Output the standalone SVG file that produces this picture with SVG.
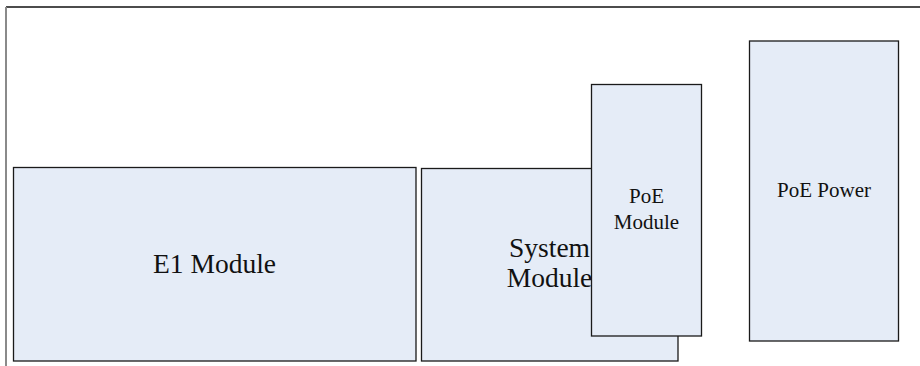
<svg xmlns="http://www.w3.org/2000/svg" width="920" height="366" viewBox="0 0 920 366">
<style>
.box{fill:#E5ECF7;stroke:#1a1a1a;stroke-width:1.3}
.t{font-family:"Liberation Serif","Times New Roman",serif;fill:#111;text-anchor:middle}
.big{font-size:27.5px}
.sm{font-size:21px}
</style>
<rect width="920" height="366" fill="#ffffff"/>
<g id="frame">
<line x1="6" y1="7" x2="920" y2="7" stroke="#111" stroke-width="1.3"/>
<line x1="6" y1="7" x2="6" y2="366" stroke="#8a8a8a" stroke-width="2"/>
</g>
<g id="e1-module">
<rect class="box" x="13.5" y="167.5" width="402.5" height="193.5"/>
<text class="t big" x="214.5" y="272.5">E1 Module</text>
</g>
<g id="system-module">
<rect class="box" x="421.5" y="168.5" width="256.5" height="192.5"/>
<text class="t big" x="549.5" y="256.5">System</text>
<text class="t big" x="549.5" y="286.5">Module</text>
</g>
<g id="poe-module">
<rect class="box" x="591.5" y="84.5" width="110" height="251.5"/>
<text class="t sm" x="646.5" y="202.5">PoE</text>
<text class="t sm" x="646.5" y="229">Module</text>
</g>
<g id="poe-power">
<rect class="box" x="749.5" y="41" width="149" height="300"/>
<text class="t sm" x="824" y="196.5">PoE Power</text>
</g>
<g id="connectors"></g>
</svg>
